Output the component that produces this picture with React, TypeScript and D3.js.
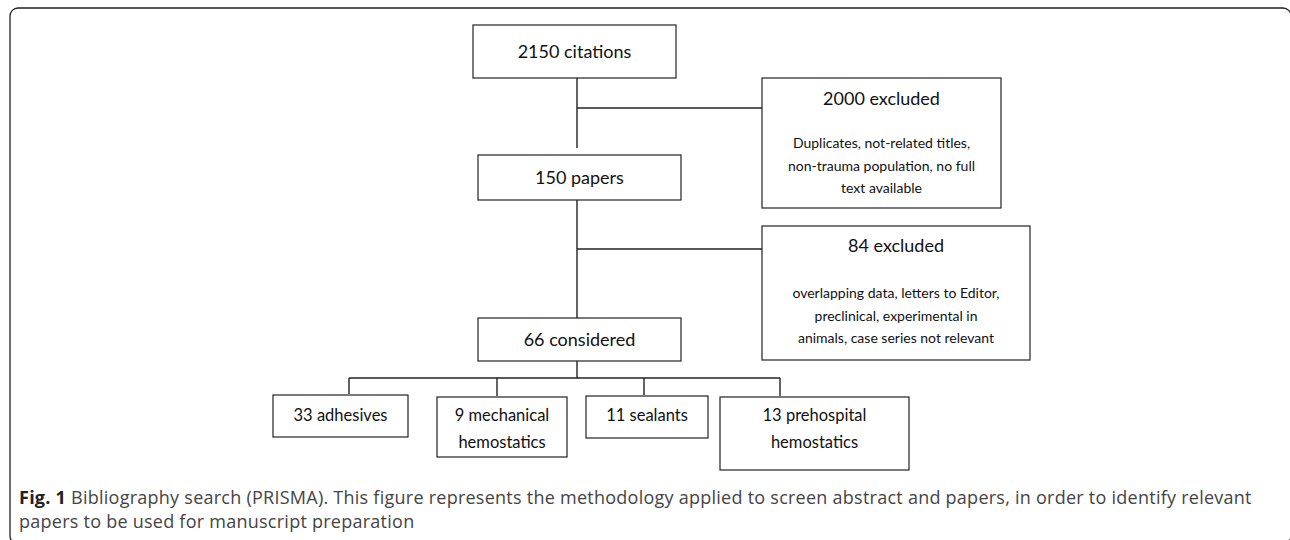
import { useEffect, useRef } from "react";
import * as d3 from "d3";

// flow content
const mainSteps = ["2150 citations", "150 papers", "66 considered"];
const exclusionTitles = ["2000 excluded", "84 excluded"];
const exclusionReasons = [
  ["Duplicates, not-related titles,", "non-trauma population, no full", "text available"],
  ["overlapping data, letters to Editor,", "preclinical, experimental in", "animals, case series not relevant"],
];
const categories = [
  ["33 adhesives"],
  ["9 mechanical", "hemostatics"],
  ["11 sealants"],
  ["13 prehospital", "hemostatics"],
];
const captionBold = "Fig. 1";
const captionLines = [
  " Bibliography search (PRISMA). This figure represents the methodology applied to screen abstract and papers, in order to identify relevant",
  "papers to be used for manuscript preparation",
];

// layout (pixels)
const mainBoxes = [
  { x: 473, y: 25, w: 203, h: 53 },
  { x: 478, y: 155, w: 203, h: 45 },
  { x: 478, y: 318, w: 203, h: 43 },
];
const exclBoxes = [
  { x: 762, y: 78, w: 239, h: 130, titleY: 105, bodyY: 148 },
  { x: 762, y: 226, w: 268, h: 134, titleY: 252, bodyY: 298 },
];
const catBoxes = [
  { x: 273, y: 395, w: 135, h: 42, drop: 349 },
  { x: 437, y: 397, w: 130, h: 60, drop: 497 },
  { x: 586, y: 396, w: 122, h: 42, drop: 644 },
  { x: 720, y: 397, w: 189, h: 73, drop: 780 },
];
const spineX = 577;
const branchY = [108, 249];
const splitY = 378;

const boxFont = "Lato, 'Noto Sans', sans-serif";

const App = () => {
  const ref = useRef<SVGSVGElement | null>(null);

  useEffect(() => {
    const svg = d3.select(ref.current);
    svg.selectAll("*").remove();
    const line = d3.line<[number, number]>();

    // outer frame (right and bottom edges run off the page)
    svg
      .append("rect")
      .attr("x", 10)
      .attr("y", 8)
      .attr("width", 1281)
      .attr("height", 536)
      .attr("rx", 8)
      .attr("fill", "none")
      .attr("stroke", "#222")
      .attr("stroke-width", 1.3);

    const links: [number, number][][] = [
      [[spineX, 78], [spineX, 148]],
      [[spineX, 200], [spineX, 318]],
      [[spineX, branchY[0]], [exclBoxes[0].x, branchY[0]]],
      [[spineX, branchY[1]], [exclBoxes[1].x, branchY[1]]],
      [[spineX, 361], [spineX, splitY]],
      [[catBoxes[0].drop, splitY], [catBoxes[3].drop, splitY]],
      ...catBoxes.map((b) => [[b.drop, splitY], [b.drop, b.y - 1]] as [number, number][]),
    ];
    svg
      .append("g")
      .selectAll("path")
      .data(links)
      .join("path")
      .attr("d", (d) => line(d))
      .attr("fill", "none")
      .attr("stroke", "#222")
      .attr("stroke-width", 1.4);

    const boxStyle = (sel: d3.Selection<SVGRectElement, any, any, any>) =>
      sel
        .attr("x", (d) => d.x)
        .attr("y", (d) => d.y)
        .attr("width", (d) => d.w)
        .attr("height", (d) => d.h)
        .attr("fill", "#fff")
        .attr("stroke", "#222")
        .attr("stroke-width", 1.2);

    // main steps
    const main = svg.append("g").selectAll("g").data(mainSteps).join("g");
    main.append("rect").datum((_, i) => mainBoxes[i]).call(boxStyle);
    main
      .append("text")
      .attr("x", (_, i) => mainBoxes[i].x + mainBoxes[i].w / 2)
      .attr("y", (_, i) => mainBoxes[i].y + mainBoxes[i].h / 2 + 6)
      .attr("text-anchor", "middle")
      .attr("font-family", boxFont)
      .attr("font-size", 18)
      .attr("fill", "#111")
      .text((d) => d);

    // exclusions
    const excl = svg.append("g").selectAll("g").data(exclusionTitles).join("g");
    excl.append("rect").datum((_, i) => exclBoxes[i]).call(boxStyle);
    excl
      .append("text")
      .attr("x", (_, i) => exclBoxes[i].x + exclBoxes[i].w / 2)
      .attr("y", (_, i) => exclBoxes[i].titleY)
      .attr("text-anchor", "middle")
      .attr("font-family", boxFont)
      .attr("font-size", 18)
      .attr("fill", "#111")
      .text((d) => d);
    excl.each(function (_, i) {
      const b = exclBoxes[i];
      d3.select(this)
        .selectAll("text.reason")
        .data(exclusionReasons[i])
        .join("text")
        .attr("class", "reason")
        .attr("x", b.x + b.w / 2)
        .attr("y", (_, j) => b.bodyY + j * 22.5)
        .attr("text-anchor", "middle")
        .attr("font-family", boxFont)
        .attr("font-size", 14)
        .attr("fill", "#111")
        .text((d) => d);
    });

    // categories
    const cats = svg.append("g").selectAll("g").data(categories).join("g");
    cats.append("rect").datum((_, i) => catBoxes[i]).call(boxStyle);
    cats.each(function (lines, i) {
      const b = catBoxes[i];
      d3.select(this)
        .selectAll("text.cat")
        .data(lines)
        .join("text")
        .attr("class", "cat")
        .attr("x", b.x + b.w / 2)
        .attr("y", (_, j) => 421 + j * 27)
        .attr("text-anchor", "middle")
        .attr("font-family", boxFont)
        .attr("font-size", 16.5)
        .attr("fill", "#111")
        .text((d) => d);
    });

    // caption
    const cap = svg
      .append("g")
      .attr("font-family", "'Open Sans', sans-serif")
      .attr("font-size", 18)
      .attr("letter-spacing", 0.25)
      .attr("fill", "#444");
    const first = cap.append("text").attr("x", 19).attr("y", 504);
    first.append("tspan").attr("font-weight", "bold").attr("fill", "#222").text(captionBold);
    first.append("tspan").text(captionLines[0]);
    cap.append("text").attr("x", 19).attr("y", 528).text(captionLines[1]);
  }, []);

  return (
    <svg
      ref={ref}
      width={1290}
      height={540}
      style={{ position: "absolute", left: 0, top: 0, background: "#fff" }}
    />
  );
};

export default App;
